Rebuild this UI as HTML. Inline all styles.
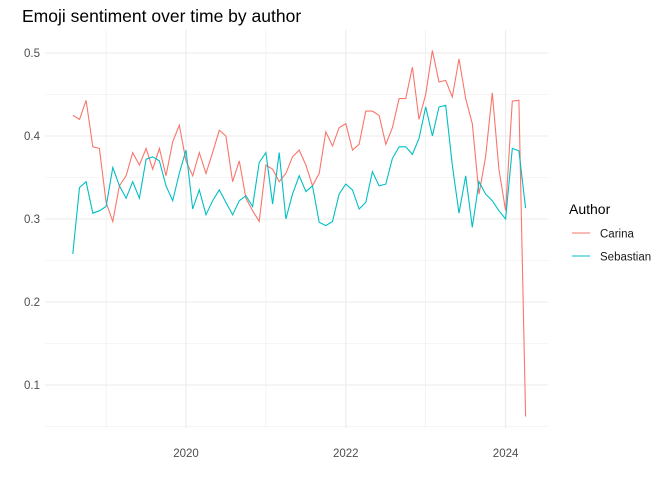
<!DOCTYPE html>
<html><head><meta charset="utf-8"><style>
body{margin:0;background:#fff;font-family:"Liberation Sans",sans-serif}
</style></head><body>
<svg id="c" width="672" height="480" style="display:block">
<text x="22" y="22" font-size="17.5" fill="#000">Emoji sentiment over time by author</text>
<g id="grid"></g><g id="series"></g><g id="axes"></g>
<g>
<text x="569" y="214" font-size="14" fill="#000">Author</text>
<line x1="572" x2="590" y1="233" y2="233" stroke="#F8766D" stroke-width="1"/>
<text x="600" y="237.5" font-size="11.5" fill="#1a1a1a">Carina</text>
<line x1="572" x2="590" y1="256" y2="256" stroke="#00BFC4" stroke-width="1"/>
<text x="600" y="260.5" font-size="11.5" fill="#1a1a1a">Sebastian</text>
</g>
</svg>
<script>
const startYear=2018, startMonth=7; // Aug 2018 (0-based month)
const carina=[.425,.42,.443,.387,.385,.32,.297,.34,.352,.38,.365,.385,.36,.385,.352,.393,.413,.37,.352,.38,.355,.38,.407,.40,.345,.37,.325,.31,.297,.365,.36,.345,.355,.375,.383,.365,.34,.355,.405,.388,.41,.415,.383,.39,.43,.43,.425,.39,.41,.445,.445,.483,.42,.45,.503,.465,.467,.447,.493,.445,.415,.33,.375,.452,.36,.31,.442,.443,.062];
const sebastian=[.258,.338,.345,.307,.31,.315,.362,.34,.325,.345,.325,.372,.375,.37,.34,.322,.355,.383,.312,.335,.305,.322,.335,.32,.305,.322,.328,.315,.368,.38,.318,.38,.30,.33,.352,.333,.34,.296,.292,.297,.33,.342,.335,.312,.32,.357,.34,.342,.373,.387,.387,.378,.397,.435,.40,.435,.437,.365,.307,.352,.29,.345,.33,.322,.31,.30,.385,.382,.313];
const yTicks=[0.1,0.2,0.3,0.4,0.5];
const yMinor=[0.05,0.15,0.25,0.35,0.45];
const xTicks=[2020,2022,2024];
const xMinor=[2019,2021,2023];
const NS="http://www.w3.org/2000/svg";
const L=45,R=548,T=30,B=428;
function x(t){return 186+(t-2020)*79.9;}
function y(v){return 219-(v-0.3)*830;}
function mk(tag,attrs,parent){const e=document.createElementNS(NS,tag);for(const k in attrs)e.setAttribute(k,attrs[k]);parent.appendChild(e);return e;}
const grid=document.getElementById('grid'),axes=document.getElementById('axes'),ser=document.getElementById('series');
yMinor.forEach(v=>{const l=mk('line',{x1:L,x2:R,y1:y(v),y2:y(v),stroke:'#ebebeb','stroke-width':0.6},grid);

});
xMinor.forEach(v=>{const l=mk('line',{x1:x(v),x2:x(v),y1:T,y2:B,stroke:'#ebebeb','stroke-width':0.6},grid);

});
yTicks.forEach(v=>{const l=mk('line',{x1:L,x2:R,y1:y(v),y2:y(v),stroke:'#ebebeb','stroke-width':1.1},grid);


const t=mk('text',{x:40,y:y(v)+4,'font-size':11.5,fill:'#4d4d4d','text-anchor':'end'},axes);t.textContent=v.toFixed(1);

});
xTicks.forEach(v=>{const l=mk('line',{x1:x(v),x2:x(v),y1:T,y2:B,stroke:'#ebebeb','stroke-width':1.1},grid);


const t=mk('text',{x:x(v),y:457,'font-size':11.5,fill:'#4d4d4d','text-anchor':'middle'},axes);t.textContent=v;

});
function tm(i){return startYear+(startMonth+i)/12;}
[[carina,'#F8766D','line-carina'],[sebastian,'#00BFC4','line-sebastian']].forEach(([d,c,n])=>{
const p=mk('polyline',{points:d.map((v,i)=>x(tm(i)).toFixed(1)+','+y(v).toFixed(1)).join(' '),fill:'none',stroke:c,'stroke-width':1.1},ser);

});
</script>
</body></html>
